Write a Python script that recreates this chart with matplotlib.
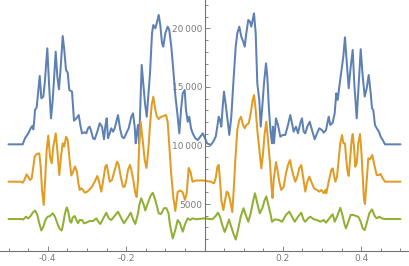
import matplotlib
matplotlib.use("Agg")
import matplotlib.pyplot as plt
from matplotlib.ticker import MultipleLocator, FixedLocator, FuncFormatter

# ---------------- data ----------------
blue_x = [-0.500, -0.4638, -0.4579, -0.4495, -0.4434, -0.4393, -0.4367, -0.4342, -0.4324, -0.4281,
          -0.4255, -0.4204, -0.4163, -0.4112, -0.4076, -0.4010, -0.3967, -0.3916, -0.3872, -0.3796,
          -0.3755, -0.3712, -0.3668, -0.3617, -0.3577, -0.3533, -0.3490, -0.3449, -0.3380, -0.3329,
          -0.3270, -0.3209, -0.3168, -0.3125, -0.3056, -0.3015, -0.2972, -0.2929, -0.2888, -0.2844,
          -0.2801, -0.2735, -0.2673, -0.2615, -0.2564, -0.2531, -0.2495, -0.2462, -0.2418, -0.2378,
          -0.2334, -0.2291, -0.2240, -0.2207, -0.2156, -0.2105, -0.2054, -0.1995, -0.1934, -0.1867,
          -0.1824, -0.1781, -0.1755, -0.1730, -0.1696, -0.1671, -0.1645, -0.1602, -0.1561, -0.1518,
          -0.1474, -0.1434, -0.1390, -0.1339, -0.1306, -0.1255, -0.1219, -0.1168, -0.1128, -0.1084,
          -0.1051, -0.1000, -0.0939, -0.0898, -0.0847, -0.0796, -0.0745, -0.0684, -0.0643, -0.0599,
          -0.0556, -0.0505, -0.0472, -0.0429, -0.0388, -0.0344, -0.0301, -0.0235, -0.0173, -0.0107,
          -0.0046, 0.0013, 0.0064, 0.0158, 0.0224, 0.0286, 0.0327, 0.0362, 0.0395, 0.0429,
          0.0464, 0.0497, 0.0548, 0.0599, 0.0633, 0.0684, 0.0735, 0.0796, 0.0837, 0.0888,
          0.0939, 0.0990, 0.1026, 0.1066, 0.1117, 0.1161, 0.1194, 0.1230, 0.1263, 0.1306,
          0.1347, 0.1398, 0.1434, 0.1474, 0.1518, 0.1569, 0.1602, 0.1645, 0.1689, 0.1722,
          0.1747, 0.1773, 0.1824, 0.1875, 0.1934, 0.1995, 0.2061, 0.2130, 0.2189, 0.2232,
          0.2275, 0.2334, 0.2385, 0.2444, 0.2487, 0.2531, 0.2571, 0.2622, 0.2684, 0.2742,
          0.2811, 0.2870, 0.2929, 0.2997, 0.3041, 0.3100, 0.3168, 0.3209, 0.3270, 0.3321,
          0.3362, 0.3398, 0.3439, 0.3500, 0.3541, 0.3584, 0.3628, 0.3679, 0.3730, 0.3781,
          0.3821, 0.3883, 0.3934, 0.3985, 0.4036, 0.4087, 0.4138, 0.4189, 0.4240, 0.4273,
          0.4306, 0.4349, 0.4393, 0.4451, 0.4495, 0.4546, 0.4605, 0.500]
blue_y = [10100, 10100, 10620, 11040, 11470, 11670, 11380, 12180, 13030, 13260,
          14170, 15940, 14030, 14170, 15310, 18300, 15310, 12320, 13890, 18010,
          15880, 14800, 16730, 19350, 18160, 16450, 16220, 14740, 14600, 12120,
          12320, 12600, 11750, 11040, 11130, 11040, 11470, 11610, 11180, 10620,
          10530, 11180, 11900, 11610, 10530, 11610, 12320, 10620, 11040, 11470,
          11180, 11470, 12180, 12600, 11470, 10750, 10620, 11040, 11470, 12460,
          12750, 11610, 10190, 11040, 11750, 10190, 12600, 16880, 15310, 13600,
          12460, 14170, 16170, 19580, 20290, 20010, 20440, 21150, 20290, 18730,
          18440, 19580, 20150, 19860, 18440, 16450, 14310, 12460, 11040, 13030,
          14460, 14740, 13030, 12030, 12460, 11470, 11040, 10620, 10470, 10750,
          11040, 10620, 10190, 10040, 10330, 10750, 11610, 12460, 12180, 11610,
          13310, 14600, 13310, 11900, 10900, 12460, 15310, 18440, 19580, 20150,
          19290, 18870, 18440, 19580, 20720, 20570, 20150, 20720, 21290, 19580,
          15310, 13890, 11610, 13310, 15310, 17020, 15880, 13030, 11040, 10190,
          11610, 10190, 12320, 11750, 10750, 10900, 10900, 11750, 12600, 11900,
          11180, 11610, 11040, 11900, 12320, 11180, 11040, 11610, 12030, 11320,
          10530, 11040, 11470, 11320, 11090, 11320, 12460, 11750, 11950, 12750,
          14460, 13890, 15020, 16590, 17580, 19240, 17160, 14890, 16730, 18160,
          15310, 12320, 15310, 18220, 15880, 14170, 14890, 16020, 14460, 13180,
          13030, 11750, 11470, 11180, 10750, 10470, 10100, 10100]

orange_x = [-0.500, -0.4689, -0.4638, -0.4597, -0.4536, -0.4495, -0.4451, -0.4408, -0.4367, -0.4332,
            -0.4281, -0.4214, -0.4179, -0.4145, -0.4102, -0.4061, -0.4026, -0.3985, -0.3941, -0.3898,
            -0.3857, -0.3796, -0.3755, -0.3704, -0.3661, -0.3617, -0.3577, -0.3533, -0.3490, -0.3449,
            -0.3398, -0.3355, -0.3304, -0.3253, -0.3219, -0.3184, -0.3143, -0.3099, -0.3056, -0.2990,
            -0.2929, -0.2870, -0.2801, -0.2735, -0.2691, -0.2633, -0.2582, -0.2531, -0.2495, -0.2454,
            -0.2418, -0.2360, -0.2291, -0.2232, -0.2189, -0.2138, -0.2079, -0.2036, -0.1995, -0.1952,
            -0.1901, -0.1867, -0.1816, -0.1765, -0.1730, -0.1696, -0.1671, -0.1628, -0.1577, -0.1526,
            -0.1480, -0.1434, -0.1390, -0.1347, -0.1306, -0.1263, -0.1219, -0.1168, -0.1117, -0.1051,
            -0.0982, -0.0939, -0.0898, -0.0847, -0.0796, -0.0745, -0.0684, -0.0625, -0.0561, -0.0497,
            -0.0454, -0.0403, -0.0357, -0.0306, -0.0217, -0.0013, 0.0158, 0.0242, 0.0286, 0.0327,
            0.0362, 0.0395, 0.0429, 0.0480, 0.0523, 0.0566, 0.0607, 0.0651, 0.0709, 0.0745,
            0.0786, 0.0837, 0.0888, 0.0931, 0.0982, 0.1026, 0.1066, 0.1128, 0.1179, 0.1230,
            0.1263, 0.1306, 0.1347, 0.1408, 0.1449, 0.1485, 0.1536, 0.1577, 0.1620, 0.1671,
            0.1709, 0.1735, 0.1765, 0.1824, 0.1875, 0.1908, 0.1959, 0.2020, 0.2079, 0.2130,
            0.2181, 0.2232, 0.2275, 0.2316, 0.2367, 0.2418, 0.2469, 0.2513, 0.2571, 0.2622,
            0.2673, 0.2724, 0.2793, 0.2870, 0.2929, 0.2980, 0.3041, 0.3082, 0.3107, 0.3168,
            0.3235, 0.3270, 0.3311, 0.3337, 0.3380, 0.3423, 0.3464, 0.3508, 0.3541, 0.3584,
            0.3610, 0.3643, 0.3679, 0.3712, 0.3755, 0.3781, 0.3814, 0.3847, 0.3883, 0.3923,
            0.3967, 0.4000, 0.4036, 0.4069, 0.4094, 0.4138, 0.4179, 0.4222, 0.4281, 0.4332,
            0.4393, 0.4451, 0.4495, 0.4546, 0.4605, 0.500]
orange_y = [6910, 6910, 6820, 7050, 7540, 7310, 7050, 7200, 8190, 9040,
            9270, 9330, 8190, 6200, 4920, 7340, 9620, 10850, 9040, 8480,
            9900, 11030, 9620, 7480, 9040, 10190, 9900, 10750, 10470, 9040,
            7440, 7740, 8210, 7740, 6800, 6200, 6350, 6200, 5970, 6060,
            6260, 6480, 6910, 7400, 6910, 6060, 7050, 8190, 8340, 7630,
            6910, 7050, 7910, 8620, 8340, 7340, 6480, 6480, 7050, 7910,
            8340, 7910, 7050, 5920, 5600, 7050, 9620, 12010, 10470, 8760,
            8080, 9620, 11750, 13460, 14170, 13200, 12520, 12260, 12430, 12520,
            12600, 12010, 10040, 7480, 5600, 4410, 6030, 6160, 6030, 5350,
            5940, 8080, 7740, 6910, 7010, 7010, 6910, 6770, 7200, 8160,
            8340, 7050, 5350, 4490, 5260, 6060, 5940, 5350, 4320, 6200,
            8760, 11320, 12180, 12460, 11750, 11470, 11750, 11900, 12750, 13890,
            14310, 13030, 11320, 9330, 8050, 9040, 11040, 12030, 10470, 8480,
            6480, 5520, 7050, 8590, 7630, 6910, 6200, 6480, 7630, 8340,
            8760, 7910, 7340, 6910, 7340, 8050, 8340, 7340, 6060, 6910,
            7340, 6910, 6350, 6200, 6060, 6200, 5920, 6200, 5920, 6910,
            7910, 8050, 7340, 6910, 7340, 8760, 10190, 10900, 10190, 10190,
            9040, 7910, 7400, 8760, 10470, 10980, 9900, 8190, 8480, 10190,
            10980, 9620, 7340, 5350, 5000, 7050, 8910, 8820, 9190, 8340,
            7480, 7480, 7570, 7200, 6910, 6910]

green_x = [-0.500, -0.4663, -0.4622, -0.4554, -0.4495, -0.4434, -0.4383, -0.4324, -0.4265, -0.4214,
           -0.4163, -0.4112, -0.4051, -0.4000, -0.3941, -0.3872, -0.3814, -0.3755, -0.3704, -0.3643,
           -0.3602, -0.3559, -0.3513, -0.3474, -0.3431, -0.3398, -0.3362, -0.3311, -0.3270, -0.3227,
           -0.3184, -0.3125, -0.3074, -0.3015, -0.2929, -0.2844, -0.2760, -0.2709, -0.2658, -0.2582,
           -0.2505, -0.2444, -0.2378, -0.2309, -0.2207, -0.2122, -0.2054, -0.1969, -0.1883, -0.1816,
           -0.1765, -0.1696, -0.1663, -0.1615, -0.1561, -0.1510, -0.1449, -0.1365, -0.1319, -0.1255,
           -0.1168, -0.1110, -0.1033, -0.0974, -0.0918, -0.0880, -0.0811, -0.0745, -0.0684, -0.0625,
           -0.0556, -0.0497, -0.0429, -0.0370, -0.0301, -0.0217, -0.0013, 0.0199, 0.0286, 0.0344,
           0.0395, 0.0454, 0.0515, 0.0566, 0.0625, 0.0668, 0.0735, 0.0796, 0.0855, 0.0923,
           0.0995, 0.1051, 0.1117, 0.1179, 0.1237, 0.1288, 0.1347, 0.1411, 0.1474, 0.1536,
           0.1577, 0.1628, 0.1689, 0.1722, 0.1806, 0.1893, 0.1977, 0.2079, 0.2163, 0.2232,
           0.2301, 0.2385, 0.2469, 0.2531, 0.2571, 0.2640, 0.2699, 0.2786, 0.2870, 0.2954,
           0.3041, 0.3100, 0.3184, 0.3270, 0.3321, 0.3380, 0.3464, 0.3508, 0.3577, 0.3610,
           0.3668, 0.3730, 0.3796, 0.3865, 0.3923, 0.3985, 0.4036, 0.4087, 0.4138, 0.4204,
           0.4273, 0.4342, 0.4393, 0.4459, 0.4520, 0.4605, 0.500]
green_y = [3720, 3720, 3680, 3920, 3770, 3980, 4260, 4450, 4070, 3360,
           2740, 3070, 3700, 3920, 3980, 4210, 3920, 3360, 2930, 2740,
           3360, 4210, 4720, 4320, 3510, 3410, 3850, 3980, 3640, 3360,
           3640, 3640, 3360, 3410, 3550, 3550, 3780, 3490, 3300, 3780,
           4260, 3780, 3640, 3920, 4350, 3780, 3360, 3780, 4260, 3640,
           3300, 4210, 4920, 5490, 5060, 4450, 5060, 5770, 5960, 5350,
           4210, 4150, 4640, 4660, 4210, 3210, 2060, 2780, 3640, 3360,
           2640, 3270, 3780, 3640, 3780, 3700, 3780, 3700, 3980, 4260,
           3920, 3210, 2610, 3070, 3680, 3210, 2500, 1970, 2780, 3920,
           4640, 4070, 3490, 4210, 5200, 5920, 5060, 4210, 4640, 5350,
           5650, 4920, 4070, 3490, 3700, 3640, 3490, 4070, 4350, 3920,
           3490, 3920, 4260, 3640, 3490, 3780, 3920, 3700, 3640, 3490,
           3640, 3410, 3780, 4130, 3490, 3920, 4680, 4210, 3210, 2930,
           3490, 4070, 4070, 3980, 3920, 3490, 2930, 2780, 3360, 4210,
           4540, 3980, 3780, 3920, 3780, 3720, 3720]

x_major = [-0.4, -0.2, 0.2, 0.4]
y_major = [5000, 10000, 15000, 20000]
y_minor = [2000, 3000, 4000, 6000, 7000, 8000, 9000, 11000, 12000, 13000, 14000,
           16000, 17000, 18000, 19000, 21000, 22000]
series_colors = ["#5E81B5", "#E19C24", "#8FB032"]

# ---------------- figure ----------------
plt.rcParams["axes.unicode_minus"] = False
fig = plt.figure(figsize=(4.09, 2.66), dpi=100)
ax = fig.add_axes([0, 0, 1, 1])

for xs, ys, c in [(blue_x, blue_y, series_colors[0]),
                  (orange_x, orange_y, series_colors[1]),
                  (green_x, green_y, series_colors[2])]:
    ax.plot(xs, ys, color=c, lw=1.45, solid_joinstyle="round", solid_capstyle="round")

ax.set_xlim(-0.5217, 0.5217)
ax.set_ylim(-290, 22426)

axis_col = "#737373"
label_col = "#7a7a7a"
for s in ["top", "right"]:
    ax.spines[s].set_visible(False)
ax.spines["left"].set_position(("data", 0))
ax.spines["bottom"].set_position(("data", 1000))
ax.spines["left"].set_bounds(1000, 22426)
for s in ["left", "bottom"]:
    ax.spines[s].set_color(axis_col)
    ax.spines[s].set_linewidth(0.8)

ax.xaxis.set_major_locator(FixedLocator(x_major))
ax.xaxis.set_minor_locator(MultipleLocator(0.05))
ax.yaxis.set_major_locator(FixedLocator(y_major))
ax.yaxis.set_minor_locator(FixedLocator(y_minor))

def yfmt(v, pos):
    s = f"{int(v)}"
    if len(s) > 4:
        s = s[:-3] + "\u2009" + s[-3:]
    return s

ax.yaxis.set_major_formatter(FuncFormatter(yfmt))
ax.xaxis.set_major_formatter(FuncFormatter(lambda v, p: f"{v:.1f}"))

ax.tick_params(axis="both", which="both", direction="in", color=axis_col,
               labelcolor=label_col, labelsize=6.5, width=0.6)
ax.tick_params(axis="both", which="major", length=3.5)
ax.tick_params(axis="both", which="minor", length=2)
ax.tick_params(axis="x", pad=2.5)
ax.tick_params(axis="y", pad=1.5)

ax.patch.set_visible(False)
fig.savefig("out.png", dpi=100, facecolor="white")
